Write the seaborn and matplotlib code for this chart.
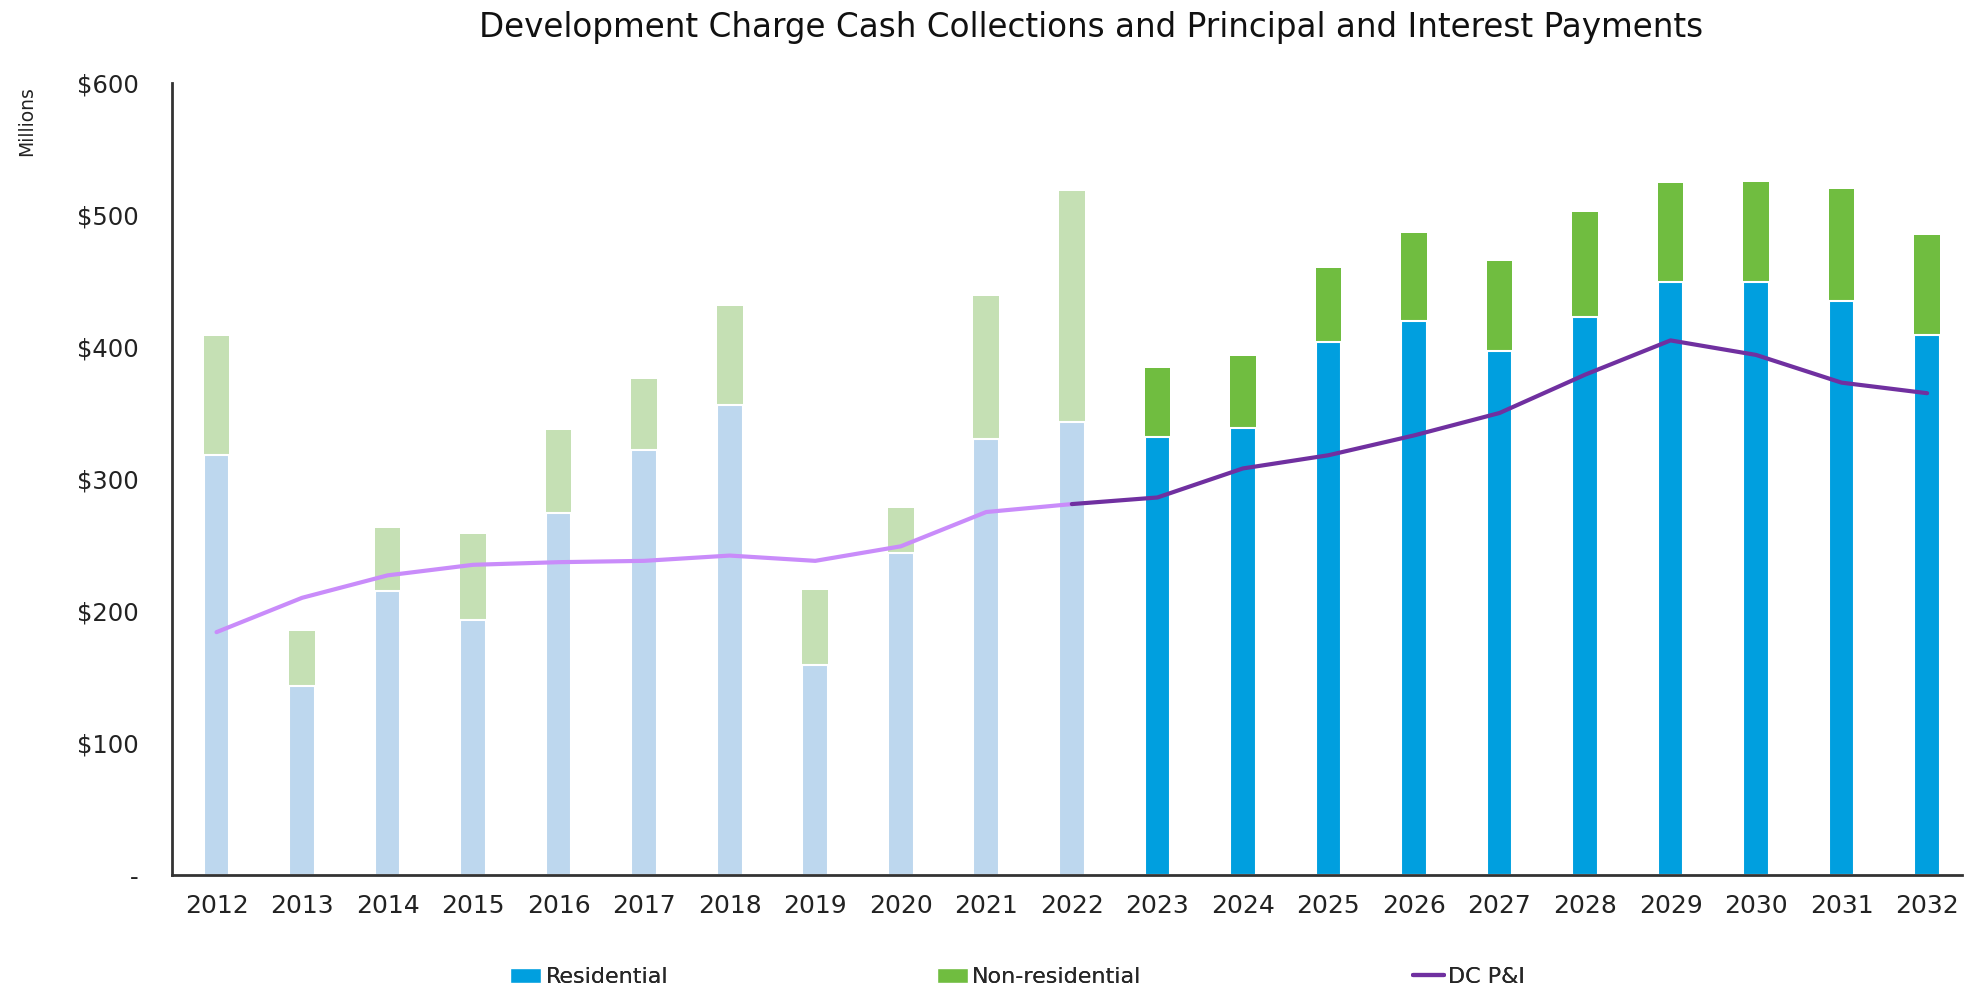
import pandas as pd
import numpy as np
import matplotlib.pyplot as plt
import seaborn as sns
from matplotlib.patches import Patch
from matplotlib.lines import Line2D

# values in $ millions
years = [str(y) for y in range(2012, 2033)]
residential = [318, 143, 215, 193, 274, 322, 356, 159, 244, 330, 343,
               332, 339, 404, 420, 397, 423, 449, 449, 435, 409]
non_residential = [90, 42, 48, 65, 63, 54, 75, 57, 34, 109, 175,
                   52, 54, 56, 66, 68, 79, 75, 76, 85, 76]
dc_pi = [184, 210, 227, 235, 237, 238, 242, 238, 249, 275, 281,
         286, 308, 318, 333, 350, 379, 405, 394, 373, 365]
period = ["Actual"] * 11 + ["Forecast"] * 10

df = pd.DataFrame({"year": years, "residential": residential,
                   "non_residential": non_residential, "dc_pi": dc_pi,
                   "period": period})
df["total"] = df["residential"] + df["non_residential"]
df["pos"] = np.arange(len(df))

res_colors = {"Actual": "#BDD7EE", "Forecast": "#009FDF"}
nonres_colors = {"Actual": "#C5E0B4", "Forecast": "#70BD40"}
line_hist = "#C98CFA"
line_fcst = "#7030A0"

sns.set_style("white")
plt.rcParams['font.family'] = ['DejaVu Sans']

fig = plt.figure(figsize=(19.8, 9.94), dpi=100)
ax = fig.add_axes([0.0869, 0.1197, 0.9041, 0.7968])

# stacked bars: totals first, residential drawn over them
sns.barplot(data=df, x="year", y="total", hue="period", palette=nonres_colors,
            dodge=False, width=0.30, saturation=1, legend=False, ax=ax, linewidth=0)
sns.barplot(data=df, x="year", y="residential", hue="period", palette=res_colors,
            dodge=False, width=0.30, saturation=1, legend=False, ax=ax,
            edgecolor="white", linewidth=1.5)

hist = df[df["pos"] <= 10]
fcst = df[df["pos"] >= 10]
sns.lineplot(x=hist["pos"], y=hist["dc_pi"], color=line_hist, linewidth=3, ax=ax)
sns.lineplot(x=fcst["pos"], y=fcst["dc_pi"], color=line_fcst, linewidth=3, ax=ax)

ax.set_xlim(-0.52, 20.41)
ax.set_ylim(0, 600)
ax.set_yticks(range(0, 700, 100))
ax.set_yticklabels(["-"] + [f"${v}" for v in range(100, 700, 100)])
ax.set_xlabel("")
ax.set_ylabel("")
ax.tick_params(axis="x", length=0, pad=14, labelsize=18, colors="#222222")
ax.tick_params(axis="y", length=0, pad=24, labelsize=17.5, colors="#222222")
sns.despine(ax=ax)
for side in ["left", "bottom"]:
    ax.spines[side].set_color("#333333")
    ax.spines[side].set_linewidth(2)

fig.text(0.0136, 0.878, "Millions", rotation=90, fontsize=13.5,
         ha="center", va="center", color="#222222")
fig.text(0.551, 0.972, "Development Charge Cash Collections and Principal and Interest Payments",
         ha="center", va="center", fontsize=23.5, color="#111111")

# three legend entries placed separately, like the spread-out original
handles = [Patch(facecolor=res_colors["Forecast"], label="Residential"),
           Patch(facecolor=nonres_colors["Forecast"], label="Non-residential"),
           Line2D([0], [0], color=line_fcst, linewidth=3, label="DC P&I")]
for h, xpos in zip(handles, [0.2576, 0.473, 0.7136]):
    leg = fig.legend(handles=[h], loc="center left", bbox_to_anchor=(xpos, 0.017),
                     frameon=False, fontsize=16, handlelength=1.4, handletextpad=0.2,
                     borderpad=0, borderaxespad=0)
    fig.add_artist(leg)

fig.savefig("out.png", dpi=100)
